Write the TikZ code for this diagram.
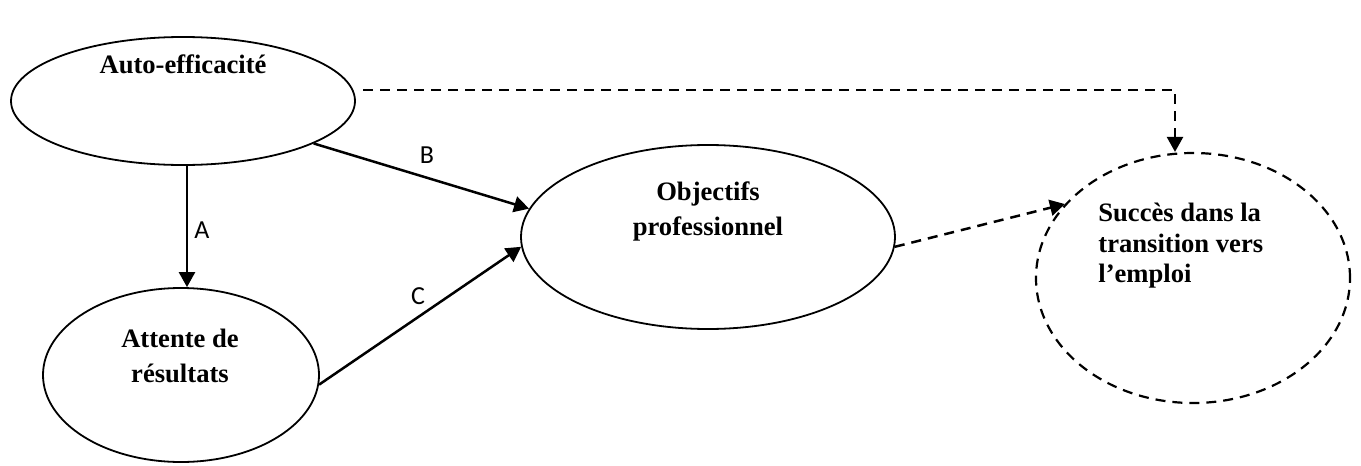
\documentclass[tikz,border=0pt]{standalone}
\usepackage{fontspec}
\setmainfont{Liberation Serif}
\newfontfamily\lblfont{Carlito}
\usetikzlibrary{arrows.meta,shapes.geometric}
\begin{document}
\begin{tikzpicture}[x=0.5pt,y=-0.5pt,
  oval/.style={draw,ellipse,inner sep=0pt,line width=0.9pt},
  txt/.style={font={\fontsize{13.3}{17.5}\selectfont\bfseries},align=center,inner sep=0pt},
  lbl/.style={font={\lblfont\fontsize{13}{15}\selectfont},inner sep=0pt},
  arr/.style={line width=1.25pt,-{Triangle[length=7.5pt,width=8pt]}},
  darr/.style={line width=1.25pt,dash pattern=on 5pt off 3.5pt,-{Triangle[length=7.5pt,width=8pt]}}]
\useasboundingbox (0,0) rectangle (1361,466);
\node[oval,minimum width=172pt,minimum height=64pt] (auto) at (183,101) {};
\node[oval,minimum width=138pt,minimum height=87pt] (att) at (181,375) {};
\node[oval,minimum width=187pt,minimum height=92pt] (obj) at (708,237) {};
\node[oval,line width=1.1pt,dash pattern=on 5pt off 3.5pt,minimum width=157pt,minimum height=125pt] (succ) at (1193,278) {};
\node[txt] (tauto) at (183,64) {Auto-efficacité};
\node[txt] (tatt) at (180,356) {Attente de\\résultats};
\node[txt] (tobj) at (708,211) {Objectifs\\professionnel};
\node[txt,font={\fontsize{13.3}{15.25}\selectfont\bfseries},align=left,anchor=west] (tsucc) at (1098,246) {Succès dans la\\transition vers\\l’emploi};
\draw[arr] (auto.south -| 187,0) -- (att.north -| 187,0);
\draw[arr] (auto.-18) -- (obj.171);
\draw[arr] (att.-4) -- (obj.183);
\coordinate (d1) at (363,90);
\draw[darr] (d1) -| ([xshift=-9pt]succ.north);
\draw[darr] (obj.-3) -- (succ.150);
\node[lbl] (la) at (202,230) {A};
\node[lbl] (lb) at (427,155) {B};
\node[lbl] (lc) at (418,296) {C};
\end{tikzpicture}
\end{document}
